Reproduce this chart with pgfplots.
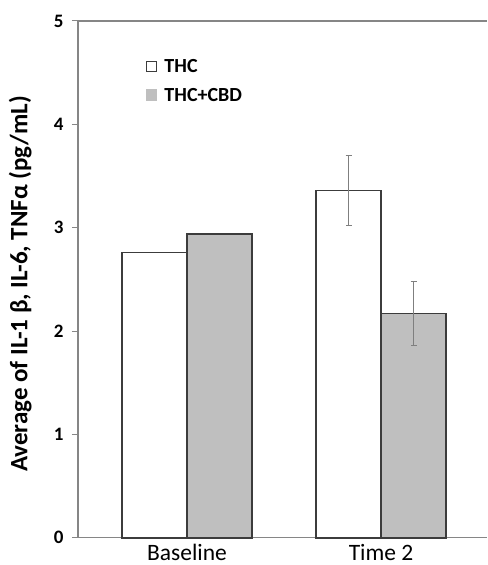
\documentclass[border=0pt]{standalone}
\usepackage{pgfplots}
\pgfplotsset{compat=1.18}
\usepackage{fontspec}
\setmainfont{Carlito}
\definecolor{axgray}{HTML}{868686}
\definecolor{bardark}{HTML}{3C3C3C}
\definecolor{barfill}{HTML}{BFBFBF}
\definecolor{errgray}{HTML}{7F7F7F}
\begin{document}
\begin{tikzpicture}
\begin{axis}[
  name=ax,
  scale only axis,
  width=409pt, height=516.7pt,
  xmin=-0.562, xmax=1.546,
  ymin=0, ymax=5,
  axis lines*=left,
  axis line style={axgray, line width=1.3pt},
  xtick={0,1},
  xticklabels={Baseline, Time 2},
  xtick style={draw=none},
  xticklabel style={font=\fontsize{23.5}{27}\selectfont, anchor=base, yshift=-16.3pt, inner sep=0pt},
  ytick={0,1,2,3,4,5},
  tick align=outside,
  major tick length=6pt,
  ytick style={axgray, line width=1pt},
  yticklabel style={font=\fontsize{19}{22}\selectfont\bfseries, xshift=-5pt},
  /pgf/number format/assume math mode=true,
  ylabel={Average of IL-1 β, IL-6, TNFα (pg/mL)},
  ylabel style={font=\fontsize{25}{29}\selectfont\bfseries, at={(axis description cs:-0.141,0.491)}, anchor=center},
  legend style={at={(axis description cs:0.165,0.930)}, anchor=north west, draw=none, fill=none,
    font=\fontsize{20}{24}\selectfont\bfseries, row sep=10pt, inner sep=0pt},
  legend cell align=left,
  clip=false,
]
\addplot[ybar, bar width=65pt, bar shift=-32.5pt, draw=bardark, fill=white, line width=1.8pt,
  area legend, legend image code/.code={\draw[draw=bardark, fill=white, line width=1.2pt] (0pt,-5pt) rectangle (10pt,5pt); \path (15pt,0pt);}]
  coordinates {(0,2.76) (1,3.36)};
\addlegendentry{THC}
\addplot[ybar, bar width=65pt, bar shift=32.5pt, draw=bardark, fill=barfill, line width=1.8pt,
  area legend, legend image code/.code={\fill[barfill] (0pt,-5pt) rectangle (10pt,5pt); \path (15pt,0pt);}]
  coordinates {(0,2.94) (1,2.17)};
\addlegendentry{THC+CBD}
\addplot[draw=none, mark=none, forget plot,
  error bars/.cd, y dir=both, y explicit,
  error bar style={draw=errgray, line width=1pt},
  error mark options={rotate=90, mark size=3pt, draw=errgray, line width=1pt}]
  coordinates {(0.83247,3.36) +- (0,0.34) (1.16753,2.17) +- (0,0.31)};
\draw[axgray, line width=1.3pt] (rel axis cs:0,1) -- (rel axis cs:1,1);
\end{axis}
\pgfresetboundingbox
\path[use as bounding box] ([xshift=-78pt,yshift=-27.3pt]ax.south west) rectangle ([yshift=21pt]ax.north east);
\end{tikzpicture}
\end{document}
